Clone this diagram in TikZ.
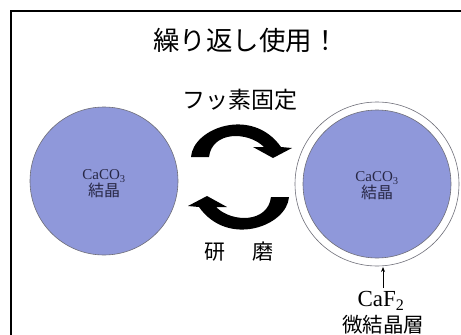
\documentclass[tikz,border=0pt]{standalone}
\usepackage{fontspec}
\usetikzlibrary{arrows.meta}
\setmainfont{Liberation Serif}
\newfontfamily\jp{Noto Sans CJK JP}
\definecolor{crystal}{RGB}{143,152,218}
\definecolor{rimgray}{RGB}{110,110,120}
\definecolor{inktext}{RGB}{40,40,70}
\newcommand{\crystaltext}{{\fontsize{15}{17}\selectfont CaCO\textsubscript{3}}\\[0pt]{\jp\fontsize{16}{18}\selectfont 結晶}}
\tikzset{
  crystaldisk/.style={circle, fill=crystal, draw=rimgray, line width=0.6pt, inner sep=0pt},
  bigarrow/.style={fill=black, draw=none},
  jplabel/.style={font=\jp, inner sep=0pt, text=black},
  smalllabel/.style={align=center, text=inktext, inner sep=0pt}
}
\begin{document}
\begin{tikzpicture}[x=1pt,y=-1pt]
\useasboundingbox (0,0) rectangle (461,335);
\fill[white] (0,0) rectangle (461,335);
\begin{scope}
\clip (0,0) rectangle (461,335);
\draw[line width=1.8pt] (11,11) rectangle (475,350);
\end{scope}
% title
\node[jplabel, font=\jp\fontsize{26.5}{30}\selectfont] (title) at (246,40) {繰り返し使用！};
\node[jplabel, font=\jp\fontsize{23}{26}\selectfont] (fix) at (240,100) {フッ素固定};
% left crystal
\node[crystaldisk, minimum size=148pt] (left) at (104,181) {};
\node[smalllabel] (lefttext) at (104,184) {\crystaltext};
% right crystal with CaF2 layer
\node[circle, fill=white, draw=rimgray, line width=0.6pt, minimum size=164pt, inner sep=0pt] (rightouter) at (377,184) {};
\node[crystaldisk, minimum size=148pt] (right) at (377,184) {};
\node[smalllabel] (righttext) at (377,186) {\crystaltext};
% curved arrows
\fill[bigarrow] (191,157) .. controls (193,128) and (252,106) .. (281,147)
  -- (292,148) -- (273,158) -- (253,147) -- (264,147)
  .. controls (248,131) and (212,131) .. (209,157) -- cycle;
\begin{scope}[rotate around={180:(240,177)}]
\fill[bigarrow] (191,157) .. controls (193,128) and (252,106) .. (281,147)
  -- (292,148) -- (273,158) -- (253,147) -- (264,147)
  .. controls (248,131) and (212,131) .. (209,157) -- cycle;
\end{scope}
\node[jplabel, font=\jp\fontsize{21}{24}\selectfont] (polish) at (239,252) {研\hspace{27pt}磨};
% CaF2 layer label
\node[font=\fontsize{23}{26}\selectfont, inner sep=0pt] (caf) at (381,301) {CaF\textsubscript{2}};
\node[jplabel, font=\jp\fontsize{20.5}{24}\selectfont] (layer) at (383,325) {微結晶層};
\coordinate (layerpt) at (383,267);
\coordinate (arrowfoot) at (383,288);
\draw[-{Stealth[length=5pt,width=4pt]}, line width=1pt] (arrowfoot) -- (layerpt);
\end{tikzpicture}
\end{document}
